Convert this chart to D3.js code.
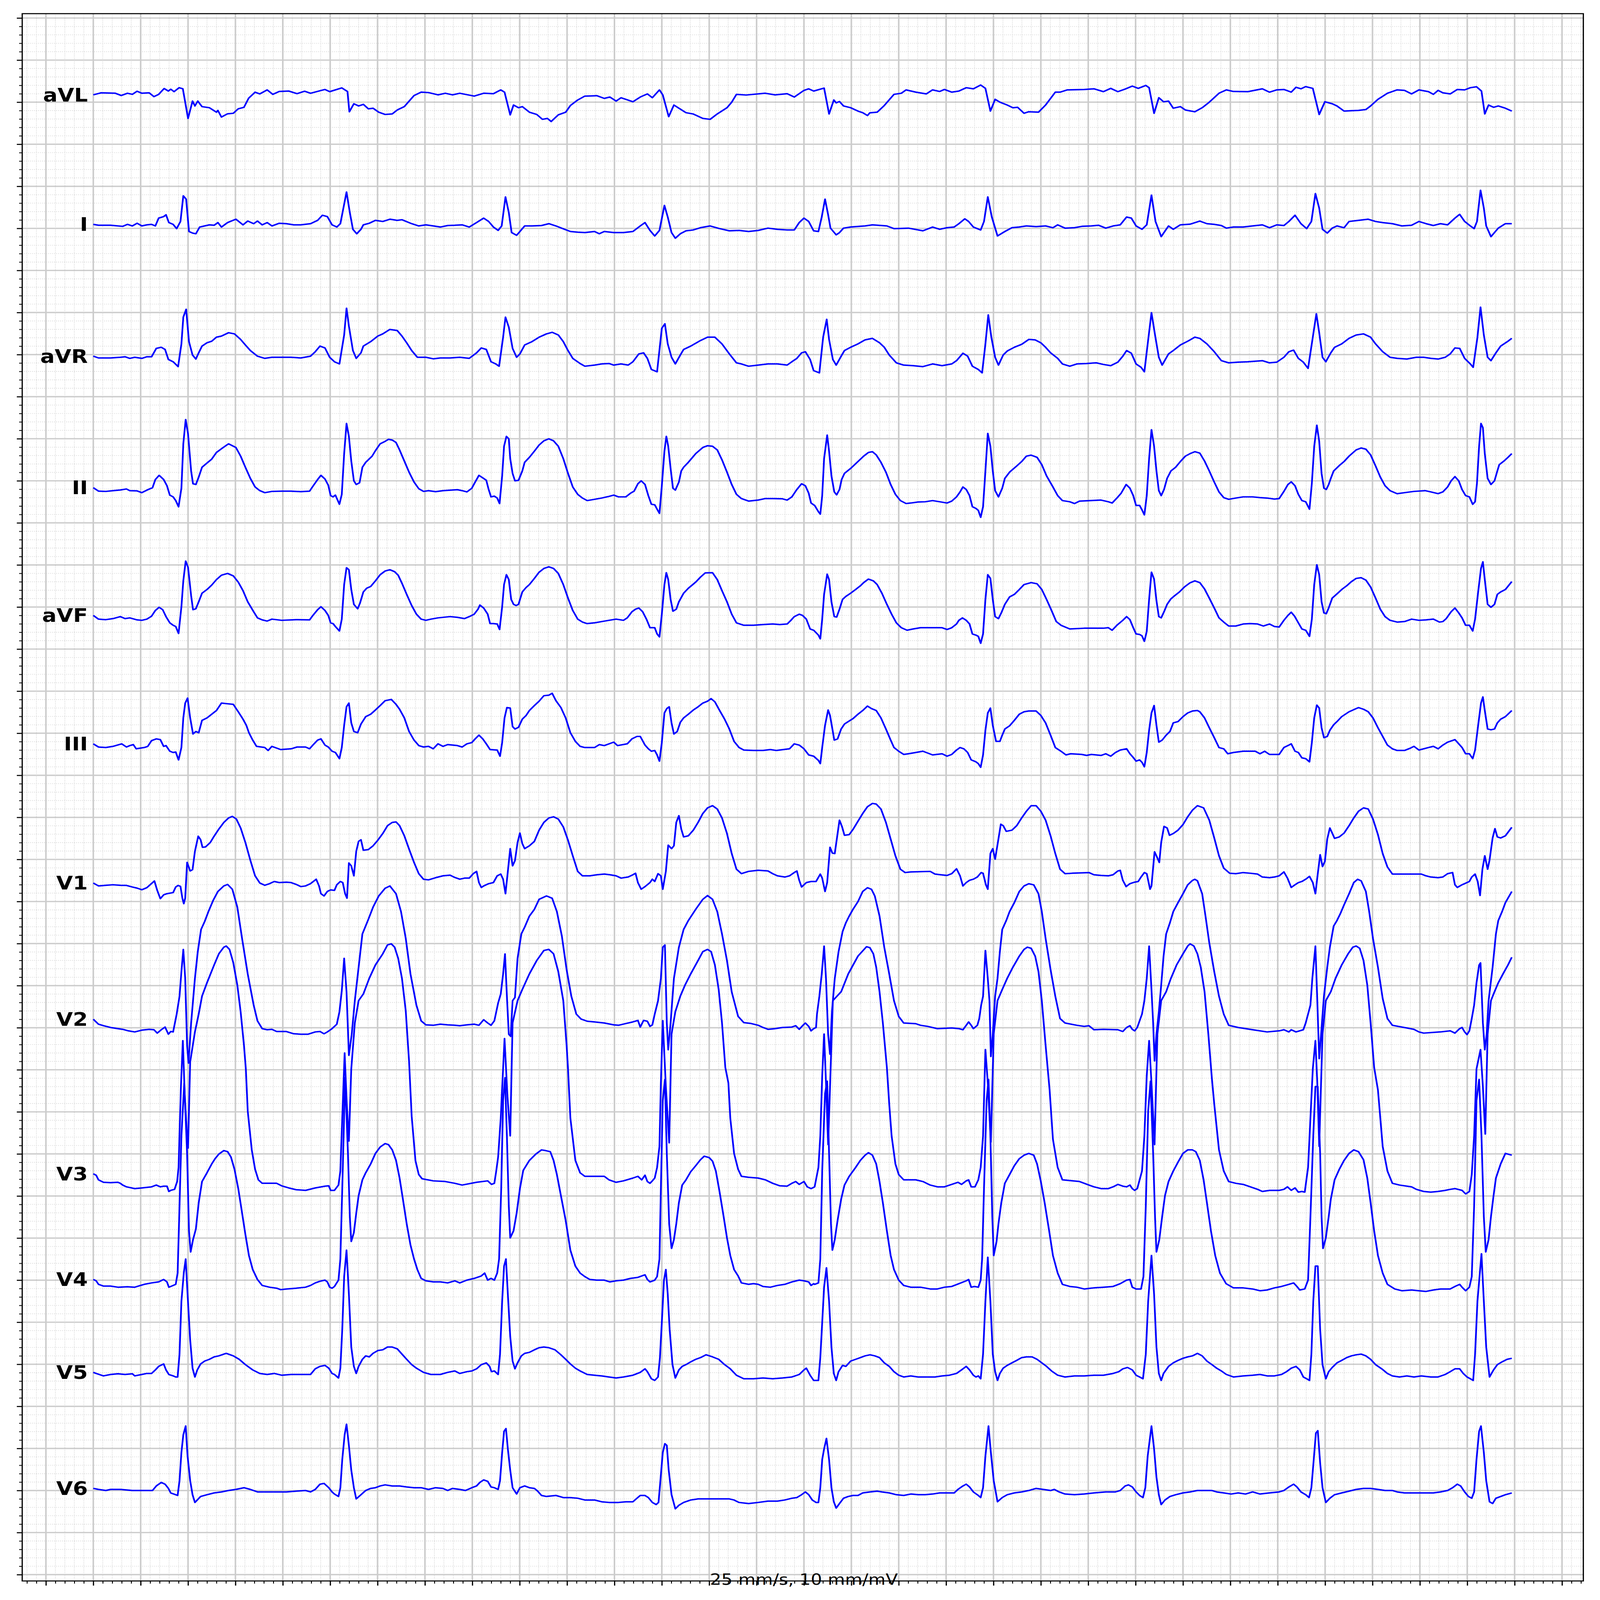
<!DOCTYPE html>
<html>
<head>
<meta charset="utf-8">
<script src="https://cdn.jsdelivr.net/npm/d3@7"></script>
<style>
  html, body { margin: 0; padding: 0; background: #fff; overflow: hidden; }
  #chart svg { display: block; width: 100vw; height: 100vh; }
</style>
</head>
<body>
<div id="chart"></div>
<script>
const leadNames = ["aVL", "I", "aVR", "II", "aVF", "III", "V1", "V2", "V3", "V4", "V5", "V6"];
const leadOffsets = [-1.0, -2.5, -4.0, -5.5, -7.0, -8.5, -10.5, -12.0, -14.0, -15.0, -16.0, -17.5];
const caption = "25 mm/s, 10 mm/mV";

const aVL = [[0,0.087],[0.033,0.111],[0.093,0.106],[0.118,0.079],[0.144,0.106],[0.165,0.093],[0.185,0.130],[0.205,0.106],[0.236,0.111],[0.256,0.066],[0.276,0.093],[0.299,0.162],[0.317,0.132],[0.327,0.154],[0.341,0.125],[0.362,0.172],[0.378,0.159],
[0.400,-0.193],[0.419,0.013],[0.429,-0.045],[0.441,0.013],[0.459,-0.053],[0.490,-0.066],[0.520,-0.119],[0.526,-0.098],[0.541,-0.177],[0.567,-0.138],[0.591,-0.132],[0.612,-0.079],[0.636,-0.061],[0.656,0.048],[0.683,0.119],[0.703,0.098],[0.734,0.146],[0.758,0.093],[0.785,0.127],[0.825,0.132],[0.860,0.101],[0.892,0.130],[0.917,0.106],[0.978,0.151],[0.998,0.125],[1.049,0.170],[1.073,0.127],
[1.081,-0.114],[1.100,-0.019],[1.120,-0.045],[1.140,-0.026],[1.161,-0.079],[1.181,-0.072],[1.205,-0.119],[1.232,-0.146],[1.262,-0.140],[1.283,-0.093],[1.313,-0.053],[1.354,0.079],[1.384,0.119],[1.415,0.114],[1.455,0.087],[1.486,0.106],[1.516,0.087],[1.547,0.106],[1.608,0.072],[1.648,0.106],[1.689,0.101],[1.720,0.146],[1.736,0.119],
[1.760,-0.151],[1.774,-0.034],[1.795,-0.066],[1.811,-0.053],[1.841,-0.119],[1.872,-0.146],[1.896,-0.204],[1.917,-0.193],[1.933,-0.230],[1.963,-0.151],[1.994,-0.119],[2.014,-0.040],[2.045,0.026],[2.075,0.072],[2.126,0.077],[2.157,0.045],[2.181,0.061],[2.207,0.013],[2.228,0.053],[2.278,0.005],[2.309,0.061],[2.339,0.098],[2.360,0.053],[2.390,0.146],[2.404,0.087],
[2.429,-0.172],[2.451,-0.034],[2.472,-0.072],[2.502,-0.125],[2.532,-0.140],[2.573,-0.193],[2.604,-0.204],[2.634,-0.140],[2.675,-0.066],[2.695,0],[2.715,0.093],[2.756,0.085],[2.837,0.106],[2.878,0.087],[2.929,0.101],[2.959,0.061],[3.000,0.140],[3.020,0.159],[3.041,0.132],[3.085,0.167],
[3.106,-0.140],[3.126,0.026],[3.136,-0.008],[3.150,0.008],[3.167,-0.045],[3.197,-0.066],[3.228,-0.106],[3.248,-0.125],[3.268,-0.159],[3.278,-0.127],[3.309,-0.119],[3.339,-0.040],[3.380,0.093],[3.411,0.106],[3.431,0.146],[3.472,0.119],[3.516,0.098],[3.543,0.146],[3.573,0.127],[3.593,0.151],[3.624,0.119],[3.654,0.132],[3.685,0.172],[3.715,0.159],[3.746,0.204],[3.766,0.164],
[3.787,-0.106],[3.807,0.034],[3.827,0],[3.858,-0.034],[3.882,-0.066],[3.902,-0.061],[3.929,-0.132],[3.949,-0.114],[3.990,-0.119],[4.020,-0.034],[4.061,0.119],[4.081,0.119],[4.112,0.146],[4.183,0.151],[4.224,0.159],[4.264,0.125],[4.295,0.164],[4.325,0.125],[4.356,0.156],[4.386,0.191],[4.411,0.164],[4.443,0.199],[4.457,0.172],
[4.478,-0.132],[4.498,0.053],[4.518,0.005],[4.539,0.013],[4.559,-0.072],[4.589,-0.053],[4.610,-0.093],[4.650,-0.114],[4.681,-0.066],[4.711,0],[4.752,0.106],[4.783,0.146],[4.813,0.127],[4.874,0.125],[4.935,0.159],[4.965,0.119],[4.996,0.146],[5.026,0.151],[5.057,0.119],[5.077,0.177],[5.098,0.159],[5.118,0.185],[5.148,0.164],
[5.175,-0.146],[5.199,0.005],[5.230,-0.019],[5.250,-0.045],[5.280,-0.106],[5.311,-0.101],[5.341,-0.098],[5.372,-0.087],[5.392,-0.045],[5.423,0.034],[5.463,0.106],[5.504,0.146],[5.535,0.140],[5.565,0.098],[5.596,0.146],[5.636,0.125],[5.657,0.093],[5.677,0.140],[5.697,0.111],[5.728,0.098],[5.758,0.151],[5.789,0.146],[5.813,0.172],[5.839,0.183],[5.860,0.132],
[5.874,-0.140],[5.890,-0.034],[5.911,-0.061],[5.931,-0.045],[5.961,-0.072],[5.988,-0.106]];

const leadI = [[0,0.048],[0.022,0.037],[0.073,0.037],[0.124,0.024],[0.144,0.048],[0.165,0.029],[0.185,0.061],[0.205,0.029],[0.226,0.042],[0.246,0.048],[0.262,0.029],[0.276,0.122],[0.297,0.140],[0.307,0.162],[0.319,0.069],[0.337,0.048],[0.352,-0.003],[0.368,0.082],[0.380,0.387],[0.392,0.347],[0.404,-0.037],[0.419,-0.056],[0.433,-0.064],[0.449,0.016],[0.470,0.029],[0.490,0.042],[0.510,0.037],[0.526,0.069],[0.541,0.016],[0.567,0.069],[0.602,0.109],[0.632,0.042],[0.652,0.087],[0.677,0.056],[0.693,0.087],[0.713,0.042],[0.734,0.069],[0.754,0.029],[0.785,0.061],[0.815,0.056],[0.846,0.042],[0.876,0.042],[0.917,0.056],[0.947,0.095],[0.967,0.156],[0.988,0.140],[1.008,0.042],[1.028,0.016],[1.043,0.056],
[1.069,0.432],[1.083,0.188],[1.096,-0.011],[1.112,-0.064],[1.130,-0.011],[1.140,0.042],[1.165,0.061],[1.191,0.095],[1.222,0.082],[1.252,0.109],[1.283,0.095],[1.303,0.103],[1.344,0.056],[1.374,0.029],[1.404,0.042],[1.435,0.029],[1.465,0.016],[1.496,0.034],[1.526,0.037],[1.557,0.042],[1.587,0.016],[1.618,0.069],[1.648,0.122],[1.669,0.082],[1.689,0.016],[1.709,-0.024],[1.724,0.029],
[1.740,0.374],[1.754,0.188],[1.766,-0.050],[1.787,-0.082],[1.801,-0.037],[1.821,0.029],[1.852,0.029],[1.892,0.034],[1.923,0.056],[1.953,0.029],[1.984,-0.005],[2.014,-0.037],[2.045,-0.045],[2.075,-0.050],[2.116,-0.037],[2.136,-0.064],[2.157,-0.037],[2.197,-0.050],[2.238,-0.050],[2.278,-0.037],[2.309,0.029],[2.329,0.069],[2.350,-0.024],[2.370,-0.090],[2.390,-0.024],
[2.411,0.273],[2.425,0.135],[2.441,-0.050],[2.457,-0.117],[2.478,-0.064],[2.502,-0.029],[2.532,-0.019],[2.563,0.008],[2.604,0.029],[2.644,-0.003],[2.685,-0.029],[2.726,-0.024],[2.766,-0.037],[2.807,-0.024],[2.848,0.003],[2.888,-0.011],[2.929,-0.019],[2.959,-0.019],[2.980,0.069],[3.000,0.122],[3.020,0.082],[3.041,-0.029],[3.061,-0.037],[3.075,0.135],
[3.089,0.347],[3.102,0.162],[3.112,0.003],[3.136,-0.077],[3.150,-0.050],[3.167,0.003],[3.197,0.016],[3.258,0.029],[3.289,0.042],[3.350,0.029],[3.380,-0.003],[3.441,0.003],[3.502,-0.029],[3.543,0.016],[3.573,-0.011],[3.604,0.008],[3.634,0.016],[3.654,0.056],[3.679,0.114],[3.695,0.082],[3.715,0.016],[3.746,-0.019],[3.760,0.082],
[3.776,0.374],[3.793,0.135],[3.817,-0.090],[3.848,-0.037],[3.878,0.008],[3.909,0.016],[3.939,0.029],[3.980,0.021],[4.020,0.029],[4.051,0.008],[4.071,0.042],[4.102,0.003],[4.142,0.008],[4.173,0.024],[4.213,0.029],[4.244,0.037],[4.274,0.003],[4.305,0.029],[4.335,0.042],[4.362,0.135],[4.382,0.122],[4.402,0.029],[4.427,-0.011],[4.447,0.042],
[4.467,0.395],[4.484,0.082],[4.508,-0.098],[4.539,0.029],[4.559,-0.011],[4.589,0.042],[4.630,0.050],[4.671,0.087],[4.701,0.056],[4.732,0.048],[4.762,0.034],[4.783,0.003],[4.813,0.016],[4.854,0.016],[4.894,0.029],[4.935,0.042],[4.965,0.008],[4.996,0.042],[5.026,0.034],[5.047,0.082],[5.073,0.156],[5.098,0.056],[5.122,-0.003],[5.142,0.082],
[5.159,0.413],[5.175,0.241],[5.189,-0.011],[5.209,-0.056],[5.230,0.003],[5.250,0.029],[5.280,0.008],[5.301,0.082],[5.341,0.095],[5.382,0.109],[5.413,0.082],[5.443,0.069],[5.484,0.056],[5.524,0.029],[5.565,0.037],[5.596,0.082],[5.626,0.056],[5.657,0.034],[5.687,0.056],[5.717,0.042],[5.748,0.122],[5.768,0.167],[5.789,0.082],[5.813,0.029],[5.829,-0.003],[5.841,0.082],
[5.856,0.453],[5.870,0.241],[5.880,0.029],[5.900,-0.098],[5.931,0.003],[5.961,0.056],[5.988,0.056]];

const aVR = [[0,-0.019],[0.022,-0.040],[0.073,-0.040],[0.114,-0.032],[0.134,-0.026],[0.154,-0.045],[0.175,-0.032],[0.205,-0.045],[0.226,-0.026],[0.246,-0.026],[0.266,0.074],[0.287,0.087],[0.303,0.061],[0.317,-0.058],[0.337,-0.085],[0.358,-0.143],[0.372,0.127],[0.380,0.445],[0.392,0.538],[0.404,0.154],[0.419,-0.005],[0.433,-0.053],[0.445,0.021],[0.459,0.101],[0.480,0.140],[0.500,0.159],[0.520,0.207],[0.541,0.220],[0.571,0.260],[0.596,0.246],[0.622,0.180],[0.642,0.114],[0.663,0.048],[0.693,-0.019],[0.724,-0.045],[0.754,-0.032],[0.795,-0.032],[0.835,-0.032],[0.876,-0.040],[0.917,-0.019],[0.937,0.034],[0.957,0.101],[0.978,0.079],[0.998,-0.032],[1.018,-0.085],[1.039,-0.111],
[1.059,0.233],[1.069,0.551],[1.079,0.339],[1.096,0.048],[1.110,-0.045],[1.130,0.021],[1.140,0.101],[1.171,0.154],[1.201,0.220],[1.222,0.246],[1.252,0.299],[1.283,0.286],[1.303,0.220],[1.323,0.140],[1.344,0.048],[1.368,-0.032],[1.404,-0.032],[1.435,-0.050],[1.465,-0.040],[1.506,-0.040],[1.547,-0.032],[1.587,-0.045],[1.618,0.021],[1.638,0.079],[1.659,0.061],[1.679,-0.085],[1.699,-0.111],[1.713,-0.138],
[1.730,0.207],[1.740,0.445],[1.754,0.326],[1.770,0.074],[1.787,-0.032],[1.801,0.008],[1.821,0.114],[1.852,0.154],[1.882,0.207],[1.913,0.246],[1.937,0.265],[1.963,0.233],[1.984,0.154],[2.004,0.048],[2.024,-0.045],[2.055,-0.106],[2.075,-0.138],[2.116,-0.125],[2.146,-0.111],[2.177,-0.106],[2.197,-0.125],[2.228,-0.111],[2.258,-0.125],[2.278,-0.085],[2.303,0.008],[2.323,0.021],[2.339,-0.045],[2.356,-0.177],[2.380,-0.204],
[2.400,0.313],[2.413,0.366],[2.425,0.127],[2.441,-0.032],[2.457,-0.111],[2.478,-0.005],[2.492,0.061],[2.522,0.101],[2.563,0.167],[2.593,0.207],[2.624,0.207],[2.654,0.127],[2.685,0.008],[2.715,-0.098],[2.736,-0.111],[2.766,-0.138],[2.807,-0.125],[2.848,-0.111],[2.888,-0.111],[2.929,-0.125],[2.949,-0.085],[2.970,-0.045],[2.990,0.021],[3.006,0.034],[3.026,-0.058],[3.041,-0.191],[3.065,-0.217],
[3.081,0.207],[3.096,0.419],[3.106,0.180],[3.122,-0.058],[3.136,-0.125],[3.157,-0.019],[3.171,0.048],[3.197,0.087],[3.228,0.127],[3.258,0.175],[3.289,0.193],[3.319,0.140],[3.339,0.087],[3.360,-0.005],[3.390,-0.098],[3.421,-0.125],[3.461,-0.132],[3.502,-0.143],[3.543,-0.111],[3.583,-0.132],[3.624,-0.111],[3.644,-0.072],[3.671,0.016],[3.691,-0.019],[3.711,-0.138],[3.736,-0.177],[3.752,-0.217],
[3.766,0.127],[3.778,0.472],[3.791,0.207],[3.807,-0.032],[3.821,-0.125],[3.841,-0.005],[3.858,0.042],[3.888,0.087],[3.919,0.122],[3.949,0.180],[3.976,0.175],[4.000,0.140],[4.020,0.087],[4.041,0.021],[4.071,-0.045],[4.091,-0.111],[4.122,-0.138],[4.152,-0.111],[4.193,-0.106],[4.234,-0.098],[4.264,-0.117],[4.295,-0.132],[4.325,-0.090],[4.346,-0.019],[4.362,0.048],[4.382,0.016],[4.402,-0.111],[4.423,-0.151],[4.437,-0.204],
[4.451,0.127],[4.467,0.498],[4.482,0.233],[4.498,-0.032],[4.512,-0.125],[4.539,0.008],[4.559,0.048],[4.589,0.114],[4.620,0.159],[4.650,0.207],[4.671,0.193],[4.701,0.127],[4.732,0.034],[4.762,-0.072],[4.793,-0.098],[4.833,-0.090],[4.874,-0.085],[4.935,-0.072],[4.965,-0.098],[4.996,-0.090],[5.026,-0.032],[5.047,0.034],[5.067,0.053],[5.087,-0.045],[5.108,-0.090],[5.128,-0.164],
[5.148,0.207],[5.163,0.485],[5.175,0.260],[5.189,-0.032],[5.203,-0.085],[5.224,0.021],[5.240,0.087],[5.270,0.127],[5.301,0.193],[5.331,0.233],[5.362,0.246],[5.392,0.207],[5.413,0.127],[5.443,0.034],[5.474,-0.032],[5.504,-0.045],[5.545,-0.053],[5.585,-0.032],[5.616,-0.032],[5.646,-0.045],[5.677,-0.053],[5.707,-0.032],[5.728,0.008],[5.748,0.079],[5.768,0.074],[5.789,-0.045],[5.813,-0.111],[5.825,-0.151],
[5.843,0.207],[5.856,0.564],[5.870,0.233],[5.886,-0.032],[5.900,-0.072],[5.921,0.021],[5.941,0.101],[5.972,0.159],[5.988,0.193]];

const leadII = [[0,-0.082],[0.022,-0.123],[0.053,-0.126],[0.083,-0.117],[0.114,-0.109],[0.140,-0.097],[0.154,-0.117],[0.185,-0.120],[0.205,-0.141],[0.226,-0.111],[0.250,-0.082],[0.262,0.015],[0.278,0.065],[0.297,0.015],[0.311,-0.059],[0.323,-0.170],[0.337,-0.191],[0.348,-0.235],[0.360,-0.308],[0.372,-0.088],[0.380,0.440],[0.390,0.728],[0.400,0.557],[0.413,0.117],[0.421,-0.035],[0.433,-0.044],[0.445,0.044],[0.459,0.161],[0.480,0.211],[0.500,0.258],[0.520,0.337],[0.541,0.381],[0.571,0.440],[0.602,0.396],[0.622,0.293],[0.642,0.161],[0.663,0.029],[0.683,-0.073],[0.703,-0.117],[0.724,-0.141],[0.754,-0.126],[0.795,-0.123],[0.835,-0.123],[0.876,-0.129],[0.913,-0.123],[0.927,-0.065],[0.947,0.015],[0.961,0.065],[0.978,0.021],[0.992,-0.053],[1.002,-0.176],[1.012,-0.191],[1.022,-0.170],[1.039,-0.279],
[1.049,-0.161],[1.059,0.323],[1.069,0.681],[1.079,0.528],[1.089,0.235],[1.100,0],[1.110,-0.044],[1.124,-0.023],[1.136,0.161],[1.150,0.220],[1.177,0.293],[1.191,0.358],[1.211,0.440],[1.232,0.469],[1.246,0.493],[1.262,0.484],[1.278,0.455],[1.293,0.367],[1.313,0.235],[1.333,0.103],[1.354,-0.015],[1.374,-0.094],[1.394,-0.126],[1.415,-0.117],[1.445,-0.129],[1.476,-0.117],[1.506,-0.111],[1.537,-0.106],[1.557,-0.117],[1.577,-0.132],[1.598,-0.088],[1.612,-0.015],[1.628,0.065],[1.644,0.035],[1.659,0.006],[1.669,-0.103],[1.679,-0.191],[1.693,-0.182],[1.705,-0.205],[1.715,-0.270],
[1.726,0.059],[1.734,0.411],[1.744,0.528],[1.754,0.499],[1.760,0.264],[1.770,0.088],[1.780,0],[1.795,0.006],[1.811,0.117],[1.821,0.220],[1.841,0.279],[1.862,0.352],[1.882,0.425],[1.902,0.475],[1.923,0.499],[1.943,0.475],[1.963,0.411],[1.984,0.264],[2.004,0.088],[2.024,-0.073],[2.045,-0.161],[2.065,-0.205],[2.085,-0.235],[2.116,-0.220],[2.146,-0.205],[2.177,-0.185],[2.197,-0.170],[2.217,-0.191],[2.248,-0.191],[2.268,-0.147],[2.283,-0.123],[2.299,-0.035],[2.313,0],[2.329,-0.044],[2.343,-0.176],[2.356,-0.279],[2.370,-0.285],[2.380,-0.337],[2.390,-0.387],
[2.400,-0.059],[2.411,0.352],[2.419,0.528],[2.427,0.411],[2.437,0.147],[2.447,-0.088],[2.457,-0.111],[2.472,-0.015],[2.482,0.117],[2.492,0.161],[2.512,0.220],[2.543,0.323],[2.573,0.396],[2.593,0.417],[2.614,0.411],[2.634,0.367],[2.654,0.249],[2.675,0.103],[2.695,-0.044],[2.715,-0.161],[2.736,-0.211],[2.766,-0.241],[2.807,-0.229],[2.837,-0.211],[2.868,-0.211],[2.909,-0.214],[2.929,-0.229],[2.949,-0.191],[2.970,-0.103],[2.990,-0.035],[3.006,-0.059],[3.020,-0.147],[3.030,-0.264],[3.045,-0.293],[3.061,-0.367],[3.069,-0.396],
[3.077,-0.176],[3.085,0.264],[3.098,0.543],[3.106,0.352],[3.116,0.059],[3.128,-0.132],[3.138,-0.167],[3.150,-0.103],[3.159,0.015],[3.171,0.088],[3.197,0.147],[3.228,0.229],[3.252,0.293],[3.272,0.337],[3.289,0.346],[3.305,0.308],[3.325,0.220],[3.346,0.103],[3.366,-0.044],[3.386,-0.161],[3.407,-0.235],[3.431,-0.270],[3.451,-0.264],[3.482,-0.252],[3.512,-0.249],[3.543,-0.235],[3.573,-0.249],[3.604,-0.264],[3.624,-0.241],[3.644,-0.191],[3.659,-0.132],[3.671,-0.073],[3.685,-0.103],[3.699,-0.176],[3.711,-0.308],[3.726,-0.329],[3.736,-0.352],[3.746,-0.434],
[3.756,-0.308],[3.766,0.117],[3.776,0.563],[3.787,0.411],[3.797,0.117],[3.807,-0.117],[3.821,-0.191],[3.837,-0.088],[3.848,0.029],[3.868,0.103],[3.898,0.176],[3.919,0.229],[3.939,0.293],[3.959,0.305],[3.984,0.279],[4.004,0.191],[4.024,0.059],[4.051,-0.073],[4.071,-0.176],[4.091,-0.235],[4.122,-0.249],[4.142,-0.270],[4.163,-0.241],[4.213,-0.235],[4.254,-0.229],[4.285,-0.249],[4.301,-0.264],[4.321,-0.205],[4.339,-0.147],[4.360,-0.044],[4.376,-0.088],[4.390,-0.176],[4.402,-0.293],[4.417,-0.293],[4.427,-0.346],[4.437,-0.405],
[4.447,-0.176],[4.457,0.264],[4.467,0.607],[4.478,0.411],[4.488,0.117],[4.498,-0.117],[4.508,-0.176],[4.520,-0.103],[4.533,0.029],[4.549,0.117],[4.569,0.161],[4.589,0.229],[4.610,0.293],[4.630,0.323],[4.650,0.346],[4.671,0.329],[4.691,0.235],[4.711,0.117],[4.732,-0.015],[4.752,-0.132],[4.772,-0.200],[4.793,-0.220],[4.823,-0.205],[4.854,-0.191],[4.894,-0.191],[4.925,-0.200],[4.955,-0.205],[4.986,-0.217],[5.006,-0.211],[5.026,-0.126],[5.043,-0.044],[5.057,-0.012],[5.073,-0.059],[5.087,-0.161],[5.102,-0.235],[5.118,-0.249],[5.134,-0.337],
[5.144,-0.029],[5.154,0.411],[5.165,0.660],[5.175,0.469],[5.185,0.088],[5.195,-0.088],[5.205,-0.103],[5.215,-0.044],[5.224,0.029],[5.236,0.117],[5.260,0.182],[5.280,0.229],[5.301,0.293],[5.331,0.367],[5.352,0.390],[5.372,0.376],[5.392,0.308],[5.413,0.176],[5.433,0.044],[5.453,-0.059],[5.474,-0.117],[5.504,-0.153],[5.535,-0.141],[5.575,-0.126],[5.622,-0.117],[5.646,-0.132],[5.677,-0.153],[5.697,-0.132],[5.717,-0.073],[5.732,0],[5.748,0.050],[5.764,0],[5.778,-0.103],[5.793,-0.176],[5.809,-0.191],[5.823,-0.279],[5.833,-0.249],
[5.841,-0.029],[5.850,0.411],[5.858,0.681],[5.866,0.631],[5.874,0.323],[5.886,0.029],[5.900,-0.044],[5.915,0],[5.927,0.117],[5.935,0.191],[5.955,0.235],[5.972,0.279],[5.988,0.323]];

const aVF = [[0,-0.100],[0.022,-0.144],[0.053,-0.150],[0.083,-0.138],[0.114,-0.114],[0.134,-0.138],[0.154,-0.129],[0.185,-0.153],[0.205,-0.158],[0.226,-0.144],[0.246,-0.109],[0.262,-0.041],[0.278,-0.003],[0.293,-0.032],[0.307,-0.114],[0.323,-0.188],[0.337,-0.217],[0.348,-0.232],[0.360,-0.314],[0.372,0.003],[0.380,0.311],[0.390,0.546],[0.400,0.472],[0.413,0.135],[0.421,-0.032],[0.433,-0.021],[0.445,0.062],[0.459,0.164],[0.480,0.208],[0.500,0.261],[0.520,0.326],[0.541,0.378],[0.567,0.399],[0.591,0.370],[0.612,0.296],[0.632,0.194],[0.652,0.062],[0.677,-0.056],[0.693,-0.129],[0.713,-0.153],[0.734,-0.167],[0.754,-0.144],[0.795,-0.158],[0.856,-0.150],[0.913,-0.153],[0.927,-0.100],[0.947,-0.032],[0.961,0.003],[0.978,-0.041],[0.992,-0.100],[1.002,-0.188],[1.012,-0.197],[1.022,-0.232],[1.039,-0.285],
[1.049,-0.144],[1.059,0.267],[1.069,0.467],[1.079,0.443],[1.089,0.208],[1.100,0.032],[1.116,-0.021],[1.126,0.047],[1.140,0.179],[1.154,0.223],[1.171,0.244],[1.191,0.311],[1.211,0.384],[1.232,0.428],[1.252,0.443],[1.272,0.420],[1.287,0.378],[1.303,0.282],[1.323,0.150],[1.344,0.018],[1.364,-0.085],[1.384,-0.144],[1.404,-0.158],[1.425,-0.144],[1.455,-0.129],[1.506,-0.114],[1.537,-0.123],[1.567,-0.138],[1.587,-0.114],[1.608,-0.085],[1.624,-0.026],[1.632,0.023],[1.648,-0.012],[1.665,-0.085],[1.675,-0.197],[1.689,-0.197],[1.705,-0.202],[1.715,-0.267],
[1.726,0.003],[1.734,0.267],[1.744,0.384],[1.754,0.326],[1.764,0.091],[1.774,0.032],[1.785,0.018],[1.795,0.032],[1.811,0.179],[1.827,0.232],[1.841,0.267],[1.862,0.340],[1.882,0.414],[1.902,0.458],[1.923,0.478],[1.943,0.458],[1.963,0.399],[1.984,0.267],[2.004,0.106],[2.024,-0.041],[2.045,-0.144],[2.065,-0.179],[2.085,-0.197],[2.116,-0.188],[2.146,-0.173],[2.177,-0.158],[2.207,-0.144],[2.238,-0.158],[2.254,-0.129],[2.274,-0.056],[2.289,-0.026],[2.303,-0.012],[2.319,-0.056],[2.335,-0.144],[2.350,-0.246],[2.370,-0.246],[2.380,-0.320],[2.390,-0.355],
[2.400,-0.085],[2.411,0.267],[2.419,0.408],[2.427,0.326],[2.437,0.091],[2.447,-0.050],[2.461,-0.026],[2.472,0.062],[2.492,0.164],[2.512,0.223],[2.543,0.296],[2.563,0.355],[2.583,0.405],[2.614,0.408],[2.634,0.326],[2.654,0.194],[2.675,0.062],[2.695,-0.085],[2.715,-0.188],[2.746,-0.217],[2.787,-0.217],[2.827,-0.208],[2.868,-0.202],[2.898,-0.208],[2.929,-0.202],[2.945,-0.158],[2.959,-0.114],[2.980,-0.085],[2.994,-0.100],[3.010,-0.144],[3.026,-0.261],[3.041,-0.276],[3.061,-0.334],[3.069,-0.378],
[3.077,-0.144],[3.085,0.150],[3.098,0.390],[3.106,0.326],[3.116,0.062],[3.128,-0.114],[3.138,-0.120],[3.150,-0.026],[3.163,0.091],[3.177,0.126],[3.197,0.164],[3.218,0.208],[3.238,0.252],[3.252,0.290],[3.272,0.332],[3.293,0.311],[3.309,0.267],[3.329,0.164],[3.350,0.032],[3.370,-0.085],[3.390,-0.188],[3.411,-0.246],[3.435,-0.276],[3.461,-0.261],[3.492,-0.246],[3.543,-0.246],[3.583,-0.246],[3.604,-0.267],[3.624,-0.246],[3.644,-0.202],[3.654,-0.158],[3.669,-0.129],[3.685,-0.158],[3.699,-0.202],[3.711,-0.320],[3.726,-0.334],[3.736,-0.349],[3.746,-0.431],
[3.756,-0.320],[3.766,0.091],[3.776,0.384],[3.787,0.340],[3.797,0.091],[3.807,-0.114],[3.821,-0.138],[3.833,-0.070],[3.848,0.032],[3.868,0.120],[3.888,0.150],[3.909,0.208],[3.929,0.267],[3.959,0.290],[3.984,0.276],[4.004,0.208],[4.024,0.091],[4.045,-0.041],[4.065,-0.173],[4.085,-0.217],[4.122,-0.261],[4.183,-0.252],[4.264,-0.252],[4.285,-0.246],[4.301,-0.276],[4.321,-0.217],[4.346,-0.158],[4.362,-0.114],[4.376,-0.150],[4.390,-0.246],[4.402,-0.320],[4.417,-0.326],[4.427,-0.343],[4.437,-0.408],
[4.447,-0.290],[4.457,0.091],[4.467,0.414],[4.478,0.332],[4.488,0.076],[4.498,-0.114],[4.508,-0.129],[4.520,-0.056],[4.533,0.032],[4.549,0.097],[4.565,0.135],[4.585,0.179],[4.606,0.238],[4.630,0.288],[4.650,0.311],[4.671,0.290],[4.691,0.214],[4.711,0.106],[4.732,-0.012],[4.752,-0.129],[4.772,-0.179],[4.793,-0.226],[4.823,-0.226],[4.854,-0.202],[4.884,-0.197],[4.915,-0.202],[4.939,-0.226],[4.965,-0.202],[4.986,-0.232],[5.006,-0.238],[5.026,-0.158],[5.043,-0.100],[5.057,-0.062],[5.071,-0.109],[5.087,-0.188],[5.102,-0.261],[5.118,-0.276],[5.134,-0.349],
[5.144,-0.144],[5.154,0.267],[5.165,0.502],[5.175,0.384],[5.185,0.062],[5.195,-0.070],[5.205,-0.079],[5.215,-0.012],[5.230,0.106],[5.250,0.156],[5.270,0.208],[5.291,0.252],[5.311,0.302],[5.331,0.340],[5.352,0.349],[5.372,0.320],[5.392,0.238],[5.413,0.106],[5.433,-0.026],[5.453,-0.114],[5.474,-0.158],[5.504,-0.179],[5.535,-0.173],[5.565,-0.144],[5.596,-0.158],[5.626,-0.153],[5.657,-0.144],[5.683,-0.179],[5.697,-0.173],[5.711,-0.138],[5.732,-0.056],[5.748,-0.012],[5.764,-0.070],[5.778,-0.129],[5.793,-0.217],[5.809,-0.217],[5.823,-0.285],
[5.833,-0.144],[5.846,0.179],[5.858,0.458],[5.866,0.537],[5.874,0.326],[5.886,0.032],[5.900,-0.003],[5.915,0.032],[5.927,0.150],[5.941,0.179],[5.961,0.208],[5.988,0.302]];

const leadIII = [[0,-0.126],[0.022,-0.164],[0.053,-0.170],[0.083,-0.156],[0.120,-0.126],[0.140,-0.164],[0.154,-0.147],[0.169,-0.135],[0.181,-0.185],[0.215,-0.170],[0.230,-0.156],[0.246,-0.088],[0.266,-0.067],[0.283,-0.076],[0.297,-0.156],[0.307,-0.147],[0.323,-0.214],[0.337,-0.229],[0.348,-0.223],[0.360,-0.317],[0.372,-0.170],[0.380,0.182],[0.388,0.358],[0.398,0.417],[0.409,0.182],[0.421,-0.009],[0.433,0.021],[0.445,0.006],[0.459,0.153],[0.480,0.182],[0.500,0.226],[0.520,0.270],[0.541,0.358],[0.561,0.352],[0.591,0.343],[0.612,0.255],[0.632,0.167],[0.646,0.094],[0.657,0.006],[0.673,-0.082],[0.689,-0.156],[0.724,-0.170],[0.738,-0.205],[0.754,-0.156],[0.791,-0.194],[0.835,-0.185],[0.860,-0.164],[0.896,-0.164],[0.913,-0.185],[0.927,-0.141],[0.947,-0.082],[0.961,-0.067],[0.978,-0.141],[0.992,-0.164],[1.008,-0.214],[1.022,-0.229],[1.039,-0.302],
[1.049,-0.170],[1.059,0.094],[1.069,0.314],[1.079,0.358],[1.089,0.123],[1.100,0.021],[1.116,0.006],[1.130,0.109],[1.150,0.197],[1.171,0.226],[1.191,0.276],[1.211,0.329],[1.232,0.387],[1.258,0.402],[1.278,0.343],[1.293,0.285],[1.313,0.182],[1.333,0.021],[1.354,-0.082],[1.374,-0.147],[1.394,-0.164],[1.415,-0.156],[1.435,-0.185],[1.455,-0.126],[1.476,-0.156],[1.496,-0.135],[1.537,-0.147],[1.557,-0.164],[1.577,-0.126],[1.598,-0.111],[1.612,-0.067],[1.628,-0.023],[1.644,-0.067],[1.659,-0.126],[1.675,-0.194],[1.705,-0.200],[1.717,-0.273],
[1.726,-0.111],[1.736,0.182],[1.746,0.305],[1.760,0.299],[1.770,0.079],[1.780,0.050],[1.795,0.070],[1.811,0.167],[1.827,0.211],[1.841,0.270],[1.862,0.329],[1.882,0.381],[1.902,0.446],[1.923,0.452],[1.937,0.475],[1.953,0.387],[1.974,0.305],[1.994,0.182],[2.014,0.006],[2.035,-0.097],[2.055,-0.156],[2.075,-0.170],[2.116,-0.170],[2.136,-0.135],[2.157,-0.147],[2.197,-0.106],[2.213,-0.147],[2.254,-0.126],[2.274,-0.067],[2.295,-0.038],[2.309,-0.038],[2.329,-0.141],[2.343,-0.185],[2.356,-0.214],[2.370,-0.205],[2.380,-0.258],[2.390,-0.332],
[2.400,-0.111],[2.411,0.241],[2.421,0.293],[2.431,0.314],[2.441,0.123],[2.451,-0.009],[2.465,0.021],[2.478,0.129],[2.492,0.182],[2.512,0.226],[2.533,0.276],[2.553,0.314],[2.573,0.358],[2.593,0.381],[2.608,0.411],[2.624,0.373],[2.644,0.270],[2.665,0.167],[2.685,0.050],[2.705,-0.097],[2.726,-0.170],[2.746,-0.200],[2.787,-0.205],[2.827,-0.205],[2.858,-0.194],[2.884,-0.205],[2.939,-0.185],[2.959,-0.126],[2.980,-0.141],[3.000,-0.185],[3.020,-0.258],[3.041,-0.273],[3.061,-0.323],[3.069,-0.361],
[3.077,-0.170],[3.089,0.094],[3.102,0.276],[3.110,0.211],[3.120,0.050],[3.128,-0.082],[3.142,-0.067],[3.157,0.050],[3.171,0.109],[3.187,0.138],[3.208,0.176],[3.228,0.226],[3.248,0.270],[3.268,0.323],[3.285,0.293],[3.305,0.270],[3.325,0.182],[3.346,0.050],[3.366,-0.082],[3.380,-0.170],[3.400,-0.214],[3.421,-0.252],[3.441,-0.244],[3.472,-0.229],[3.502,-0.214],[3.543,-0.258],[3.583,-0.244],[3.604,-0.273],[3.624,-0.252],[3.644,-0.200],[3.659,-0.170],[3.675,-0.185],[3.691,-0.229],[3.706,-0.317],[3.726,-0.340],[3.736,-0.361],[3.746,-0.405],
[3.756,-0.258],[3.766,0.035],[3.776,0.241],[3.787,0.299],[3.797,0.094],[3.811,-0.097],[3.827,-0.097],[3.837,-0.023],[3.848,0.050],[3.868,0.088],[3.888,0.153],[3.909,0.226],[3.929,0.255],[3.949,0.264],[3.980,0.264],[4.000,0.211],[4.020,0.123],[4.041,-0.023],[4.061,-0.170],[4.085,-0.214],[4.106,-0.258],[4.126,-0.244],[4.173,-0.252],[4.193,-0.264],[4.213,-0.252],[4.254,-0.264],[4.274,-0.244],[4.295,-0.273],[4.315,-0.229],[4.335,-0.200],[4.362,-0.185],[4.376,-0.244],[4.390,-0.288],[4.402,-0.332],[4.417,-0.317],[4.427,-0.346],[4.437,-0.399],
[4.447,-0.229],[4.457,0.035],[4.467,0.241],[4.478,0.329],[4.488,0.094],[4.498,-0.106],[4.512,-0.082],[4.529,-0.023],[4.545,0.021],[4.559,0.123],[4.579,0.138],[4.600,0.197],[4.620,0.241],[4.640,0.264],[4.661,0.270],[4.671,0.255],[4.691,0.182],[4.711,0.065],[4.732,-0.053],[4.752,-0.170],[4.772,-0.185],[4.789,-0.244],[4.813,-0.229],[4.854,-0.214],[4.905,-0.214],[4.925,-0.244],[4.945,-0.214],[4.965,-0.252],[5.006,-0.252],[5.026,-0.170],[5.043,-0.147],[5.057,-0.126],[5.073,-0.214],[5.087,-0.229],[5.102,-0.293],[5.118,-0.302],[5.134,-0.340],
[5.144,-0.111],[5.154,0.182],[5.165,0.334],[5.175,0.299],[5.185,0.065],[5.195,-0.053],[5.209,-0.038],[5.220,0.035],[5.236,0.100],[5.250,0.138],[5.270,0.197],[5.301,0.255],[5.341,0.305],[5.362,0.285],[5.382,0.255],[5.402,0.182],[5.423,0.065],[5.443,-0.038],[5.463,-0.141],[5.484,-0.185],[5.504,-0.205],[5.535,-0.205],[5.561,-0.176],[5.575,-0.156],[5.596,-0.200],[5.636,-0.170],[5.657,-0.156],[5.677,-0.185],[5.697,-0.141],[5.717,-0.106],[5.748,-0.076],[5.764,-0.126],[5.778,-0.170],[5.793,-0.244],[5.809,-0.244],[5.823,-0.302],
[5.833,-0.200],[5.846,0.094],[5.858,0.358],[5.866,0.431],[5.874,0.270],[5.886,0.050],[5.900,0.041],[5.915,0.050],[5.927,0.123],[5.941,0.167],[5.961,0.197],[5.988,0.270]];

const V1 = [[0,0.220],[0.022,0.185],[0.053,0.193],[0.083,0.199],[0.114,0.193],[0.140,0.191],[0.165,0.172],[0.185,0.159],[0.205,0.140],[0.226,0.164],[0.242,0.204],[0.258,0.244],[0.270,0.132],[0.283,0.034],[0.297,0.079],[0.311,0.093],[0.337,0.106],[0.348,0.172],[0.358,0.191],[0.368,0.180],[0.376,0.040],[0.382,-0.026],[0.388,0.040],[0.396,0.464],[0.409,0.363],[0.419,0.379],[0.429,0.596],[0.443,0.776],[0.453,0.734],[0.461,0.644],[0.474,0.649],[0.494,0.702],[0.510,0.776],[0.530,0.861],[0.551,0.940],[0.571,0.993],[0.587,1.012],[0.604,0.980],[0.622,0.874],[0.642,0.702],[0.663,0.490],[0.683,0.305],[0.703,0.220],[0.724,0.193],[0.744,0.212],[0.764,0.238],[0.785,0.225],[0.815,0.230],[0.835,0.225],[0.856,0.204],[0.876,0.177],[0.896,0.185],[0.917,0.212],[0.941,0.265],[0.953,0.185],[0.961,0.093],[0.974,0.066],[0.988,0.119],[1.002,0.138],[1.018,0.132],[1.028,0.199],[1.043,0.238],[1.053,0.225],[1.063,0.093],[1.071,0.040],
[1.079,0.458],[1.089,0.424],[1.100,0.305],[1.110,0.596],[1.120,0.715],[1.130,0.734],[1.140,0.609],[1.161,0.617],[1.181,0.662],[1.201,0.728],[1.222,0.808],[1.242,0.901],[1.262,0.940],[1.278,0.946],[1.293,0.901],[1.313,0.781],[1.333,0.623],[1.354,0.464],[1.374,0.331],[1.394,0.265],[1.415,0.257],[1.445,0.283],[1.476,0.305],[1.506,0.313],[1.526,0.286],[1.547,0.265],[1.567,0.278],[1.587,0.278],[1.604,0.331],[1.618,0.358],[1.628,0.225],[1.638,0.167],[1.648,0.185],[1.669,0.212],[1.689,0.225],[1.705,0.305],[1.720,0.326],[1.730,0.265],[1.740,0.093],
[1.750,0.358],[1.760,0.628],[1.770,0.424],[1.780,0.485],[1.791,0.702],[1.801,0.813],[1.811,0.689],[1.821,0.628],[1.841,0.662],[1.862,0.715],[1.882,0.848],[1.902,0.940],[1.923,0.993],[1.943,1.007],[1.963,0.980],[1.984,0.887],[2.004,0.728],[2.024,0.543],[2.045,0.358],[2.065,0.305],[2.096,0.305],[2.126,0.318],[2.157,0.326],[2.181,0.318],[2.207,0.305],[2.228,0.278],[2.258,0.291],[2.278,0.318],[2.289,0.336],[2.299,0.225],[2.313,0.146],[2.329,0.177],[2.350,0.225],[2.360,0.265],[2.370,0.238],[2.384,0.331],[2.396,0.305],[2.404,0.146],
[2.417,0.358],[2.427,0.670],[2.441,0.628],[2.451,0.662],[2.461,0.940],[2.472,1.020],[2.482,0.861],[2.492,0.768],[2.512,0.781],[2.533,0.848],[2.553,0.940],[2.573,1.046],[2.593,1.113],[2.614,1.139],[2.634,1.099],[2.654,0.993],[2.675,0.808],[2.695,0.570],[2.715,0.384],[2.736,0.331],[2.766,0.358],[2.807,0.371],[2.848,0.363],[2.868,0.331],[2.888,0.305],[2.919,0.291],[2.939,0.305],[2.959,0.344],[2.970,0.363],[2.980,0.252],[2.990,0.172],[3.010,0.225],[3.030,0.238],[3.051,0.238],[3.069,0.326],[3.077,0.278],[3.089,0.119],
[3.098,0.225],[3.110,0.644],[3.120,0.575],[3.130,0.570],[3.142,0.808],[3.150,0.967],[3.161,0.887],[3.171,0.787],[3.191,0.795],[3.208,0.861],[3.228,0.954],[3.248,1.046],[3.268,1.126],[3.289,1.166],[3.305,1.158],[3.325,1.099],[3.346,0.940],[3.366,0.742],[3.386,0.543],[3.407,0.384],[3.427,0.344],[3.451,0.352],[3.533,0.358],[3.553,0.326],[3.577,0.318],[3.604,0.310],[3.624,0.331],[3.644,0.389],[3.659,0.305],[3.671,0.185],[3.685,0.225],[3.699,0.252],[3.715,0.265],[3.732,0.291],[3.748,0.344],[3.756,0.336],[3.768,0.199],[3.776,0.146],
[3.787,0.570],[3.797,0.628],[3.807,0.503],[3.817,0.675],[3.831,0.919],[3.841,0.901],[3.854,0.834],[3.878,0.848],[3.898,0.901],[3.919,0.993],[3.939,1.073],[3.959,1.139],[3.980,1.139],[4.000,1.073],[4.020,0.967],[4.041,0.781],[4.061,0.570],[4.081,0.384],[4.102,0.331],[4.132,0.336],[4.203,0.344],[4.224,0.318],[4.254,0.310],[4.285,0.305],[4.305,0.318],[4.325,0.363],[4.335,0.371],[4.346,0.252],[4.360,0.177],[4.376,0.212],[4.396,0.230],[4.411,0.238],[4.423,0.291],[4.437,0.344],[4.447,0.331],[4.461,0.146],[4.467,0.185],
[4.480,0.591],[4.492,0.517],[4.500,0.464],[4.508,0.702],[4.520,0.893],[4.533,0.874],[4.543,0.787],[4.559,0.808],[4.579,0.848],[4.600,0.914],[4.620,1.007],[4.640,1.086],[4.661,1.139],[4.687,1.113],[4.711,0.967],[4.732,0.755],[4.752,0.543],[4.772,0.397],[4.797,0.336],[4.823,0.331],[4.854,0.344],[4.884,0.336],[4.915,0.326],[4.935,0.291],[4.965,0.283],[4.986,0.291],[5.006,0.305],[5.026,0.352],[5.041,0.278],[5.057,0.167],[5.073,0.199],[5.087,0.225],[5.102,0.238],[5.118,0.265],[5.134,0.299],[5.148,0.225],[5.159,0.093],
[5.169,0.331],[5.179,0.556],[5.189,0.416],[5.199,0.477],[5.209,0.742],[5.220,0.874],[5.230,0.813],[5.240,0.750],[5.260,0.768],[5.280,0.813],[5.301,0.901],[5.321,0.993],[5.341,1.073],[5.362,1.113],[5.382,1.099],[5.402,0.980],[5.423,0.795],[5.443,0.570],[5.463,0.411],[5.484,0.326],[5.606,0.326],[5.626,0.305],[5.646,0.291],[5.677,0.283],[5.697,0.291],[5.717,0.331],[5.738,0.344],[5.748,0.199],[5.758,0.167],[5.778,0.199],[5.799,0.225],[5.809,0.238],[5.819,0.291],[5.833,0.326],[5.844,0.238],[5.854,0.072],
[5.864,0.384],[5.874,0.543],[5.886,0.384],[5.894,0.490],[5.907,0.755],[5.917,0.866],[5.927,0.768],[5.941,0.755],[5.961,0.781],[5.988,0.882]];

const V2 = [[0,0.101],[0.022,0.042],[0.043,0.024],[0.073,0.003],[0.104,-0.011],[0.124,-0.019],[0.148,-0.037],[0.175,-0.050],[0.205,-0.029],[0.236,-0.019],[0.256,-0.024],[0.270,-0.064],[0.287,-0.024],[0.303,0.008],[0.317,-0.077],[0.327,-0.045],[0.337,-0.050],[0.352,0.162],[0.364,0.374],[0.372,0.665],[0.380,0.930],[0.388,0.585],[0.396,-0.209],[0.402,-0.421],[0.413,0.056],[0.429,0.585],[0.441,0.903],[0.455,1.168],[0.470,1.261],[0.486,1.380],[0.506,1.513],[0.526,1.619],[0.551,1.685],[0.567,1.703],[0.587,1.645],[0.608,1.433],[0.628,1.062],[0.652,0.638],[0.677,0.268],[0.693,0.082],[0.713,-0.011],[0.734,-0.024],[0.754,-0.019],[0.774,-0.045],[0.815,-0.045],[0.846,-0.072],[0.876,-0.077],[0.907,-0.077],[0.937,-0.050],[0.957,-0.045],[0.974,-0.072],[0.988,-0.050],[1.008,-0.011],[1.028,0.042],
[1.039,0.188],[1.049,0.440],[1.059,0.824],[1.069,0.426],[1.079,-0.328],[1.091,-0.077],[1.104,0.321],[1.120,0.718],[1.136,1.115],[1.161,1.287],[1.181,1.433],[1.205,1.566],[1.232,1.658],[1.252,1.685],[1.278,1.592],[1.299,1.380],[1.319,1.062],[1.339,0.638],[1.364,0.268],[1.384,0.082],[1.404,0.034],[1.435,0.029],[1.465,0.042],[1.496,0.034],[1.526,0.029],[1.547,0.024],[1.577,0.034],[1.608,0.042],[1.628,0.029],[1.648,0.095],[1.665,0.056],[1.679,0.029],[1.693,0.082],
[1.709,0.294],[1.720,0.400],[1.730,0.638],[1.738,0.877],[1.746,0.374],[1.754,-0.077],[1.762,-0.103],[1.770,0.321],[1.780,0.360],[1.791,0.824],[1.807,1.115],[1.821,1.195],[1.841,1.327],[1.862,1.407],[1.882,1.526],[1.913,1.566],[1.937,1.539],[1.957,1.380],[1.978,1.089],[1.998,0.691],[2.018,0.374],[2.039,0.162],[2.059,0.103],[2.085,0.077],[2.116,0.069],[2.157,0.056],[2.197,0.034],[2.217,0.029],[2.248,0.050],[2.278,0.069],[2.299,0.087],[2.309,0.008],[2.323,0.087],[2.339,0.077],[2.350,0.016],[2.360,0.034],
[2.370,0.162],[2.384,0.321],[2.396,0.585],[2.404,0.956],[2.413,0.983],[2.421,0.056],[2.427,-0.262],[2.437,0.056],[2.451,0.585],[2.472,0.956],[2.492,1.168],[2.512,1.274],[2.543,1.407],[2.573,1.526],[2.593,1.571],[2.614,1.526],[2.634,1.380],[2.654,1.115],[2.675,0.797],[2.695,0.426],[2.722,0.135],[2.746,0.061],[2.777,0.050],[2.807,0.029],[2.827,0.003],[2.848,-0.019],[2.878,-0.011],[2.909,0.003],[2.949,0.008],[2.965,0.024],[2.980,-0.019],[2.994,0.024],[3.006,0.056],[3.020,0.016],[3.030,-0.037],[3.041,-0.011],[3.051,0.003],
[3.055,0.162],[3.065,0.374],[3.075,0.638],[3.085,0.970],[3.093,0.585],[3.102,-0.077],[3.110,-0.315],[3.118,0.188],[3.130,0.585],[3.146,0.903],[3.163,1.142],[3.177,1.248],[3.191,1.327],[3.207,1.407],[3.228,1.499],[3.248,1.619],[3.268,1.664],[3.285,1.645],[3.299,1.566],[3.319,1.327],[3.339,0.956],[3.360,0.638],[3.380,0.321],[3.400,0.135],[3.421,0.056],[3.472,0.048],[3.492,0.029],[3.522,0.016],[3.563,-0.011],[3.624,-0.003],[3.654,-0.011],[3.671,-0.024],[3.685,0.029],[3.695,0.069],[3.706,0.029],[3.715,-0.011],[3.732,0.029],[3.740,0.109],
[3.748,0.268],[3.756,0.374],[3.766,0.917],[3.776,0.585],[3.783,0.321],[3.789,-0.342],[3.797,-0.077],[3.807,0.374],[3.817,0.585],[3.827,0.903],[3.837,1.168],[3.854,1.274],[3.868,1.380],[3.888,1.486],[3.909,1.619],[3.929,1.685],[3.949,1.711],[3.970,1.698],[3.990,1.592],[4.004,1.380],[4.020,1.062],[4.041,0.691],[4.061,0.374],[4.081,0.109],[4.102,0.056],[4.152,0.029],[4.183,0.016],[4.203,0.024],[4.224,-0.024],[4.264,-0.019],[4.325,-0.024],[4.346,-0.045],[4.362,0.003],[4.376,0.024],[4.386,-0.019],[4.396,-0.037],[4.407,0.003],
[4.427,0.162],[4.437,0.321],[4.447,0.585],[4.457,0.970],[4.467,0.453],[4.474,0.056],[4.480,-0.395],[4.488,-0.077],[4.498,0.188],[4.508,0.506],[4.518,0.850],[4.529,1.115],[4.545,1.248],[4.559,1.380],[4.579,1.486],[4.600,1.592],[4.620,1.698],[4.640,1.751],[4.650,1.764],[4.661,1.746],[4.681,1.592],[4.695,1.327],[4.711,1.009],[4.732,0.665],[4.752,0.374],[4.772,0.162],[4.793,0.029],[4.833,0.003],[4.894,-0.024],[4.955,-0.050],[5.006,-0.037],[5.026,-0.024],[5.047,-0.050],[5.057,-0.024],[5.077,-0.050],[5.108,-0.024],
[5.118,0.056],[5.128,0.162],[5.138,0.268],[5.146,0.585],[5.159,0.970],[5.167,0.321],[5.175,-0.368],[5.183,-0.077],[5.195,0.374],[5.209,0.718],[5.220,0.956],[5.236,1.208],[5.250,1.274],[5.264,1.354],[5.280,1.460],[5.301,1.592],[5.321,1.725],[5.337,1.764],[5.352,1.746],[5.372,1.619],[5.386,1.380],[5.402,1.062],[5.423,0.718],[5.443,0.347],[5.463,0.109],[5.484,0.029],[5.545,-0.003],[5.575,-0.019],[5.596,-0.050],[5.616,-0.064],[5.687,-0.050],[5.728,-0.037],[5.748,-0.064],[5.768,-0.011],[5.778,0.003],[5.789,-0.050],[5.799,-0.082],[5.809,-0.037],
[5.819,0.109],[5.829,0.268],[5.839,0.532],[5.850,0.744],[5.856,0.771],[5.866,0.056],[5.874,-0.262],[5.882,-0.077],[5.890,0.321],[5.907,0.718],[5.921,1.115],[5.931,1.274],[5.947,1.380],[5.961,1.486],[5.988,1.619]];

const V3 = [[0,0.264],[0.012,0.247],[0.022,0.192],[0.043,0.163],[0.073,0.159],[0.104,0.163],[0.114,0.151],[0.124,0.130],[0.140,0.109],[0.175,0.088],[0.205,0.096],[0.246,0.109],[0.266,0.130],[0.283,0.109],[0.297,0.117],[0.311,0.117],[0.319,0.054],[0.327,0.067],[0.343,0.079],[0.354,0.172],[0.360,0.339],[0.370,1.300],[0.378,1.846],[0.386,1.200],[0.394,0.800],[0.400,0.569],[0.409,1.594],[0.429,1.950],[0.445,2.163],[0.459,2.375],[0.480,2.534],[0.510,2.745],[0.530,2.878],[0.551,2.957],[0.561,2.971],[0.575,2.931],[0.591,2.772],[0.608,2.507],[0.622,2.190],[0.636,1.793],[0.644,1.510],[0.652,1.008],[0.669,0.548],[0.683,0.318],[0.697,0.192],[0.713,0.151],[0.774,0.151],[0.795,0.121],[0.825,0.096],[0.856,0.075],[0.896,0.067],[0.937,0.096],[0.978,0.117],[0.994,0.121],[1.002,0.067],[1.018,0.067],[1.035,0.130],[1.043,0.297],
[1.051,0.925],[1.061,1.700],[1.070,1.100],[1.079,0.653],[1.089,1.510],[1.104,2.057],[1.120,2.322],[1.140,2.401],[1.165,2.587],[1.191,2.746],[1.222,2.878],[1.242,2.984],[1.258,2.997],[1.272,2.957],[1.287,2.825],[1.303,2.587],[1.319,2.200],[1.333,1.600],[1.344,0.950],[1.360,0.420],[1.374,0.255],[1.388,0.205],[1.435,0.180],[1.486,0.172],[1.526,0.151],[1.557,0.130],[1.618,0.163],[1.665,0.180],[1.681,0.138],[1.693,0.151],[1.701,0.297],[1.709,0.464],
[1.720,0.925],[1.736,1.872],[1.748,1.200],[1.760,0.715],[1.770,2.057],[1.791,2.322],[1.811,2.454],[1.841,2.640],[1.872,2.799],[1.902,2.918],[1.923,2.931],[1.943,2.878],[1.963,2.666],[1.984,2.322],[1.998,1.793],[2.004,1.510],[2.014,0.925],[2.035,0.423],[2.055,0.276],[2.075,0.234],[2.157,0.234],[2.177,0.192],[2.207,0.163],[2.238,0.180],[2.278,0.213],[2.299,0.234],[2.315,0.192],[2.329,0.247],[2.339,0.172],[2.350,0.151],[2.360,0.180],[2.370,0.213],[2.380,0.339],[2.390,0.590],
[2.396,1.343],[2.404,2.084],[2.417,1.300],[2.431,0.632],[2.441,1.925],[2.457,2.190],[2.478,2.375],[2.498,2.507],[2.522,2.640],[2.553,2.799],[2.573,2.904],[2.593,2.931],[2.608,2.904],[2.624,2.746],[2.640,2.454],[2.654,2.057],[2.668,1.528],[2.681,1.343],[2.689,0.925],[2.705,0.506],[2.722,0.318],[2.736,0.234],[2.766,0.222],[2.807,0.213],[2.837,0.192],[2.868,0.151],[2.898,0.121],[2.929,0.117],[2.949,0.151],[2.965,0.172],[2.980,0.138],[3.000,0.172],[3.014,0.109],[3.030,0.088],[3.045,0.109],[3.061,0.339],[3.069,0.715],
[3.077,1.427],[3.085,1.925],[3.093,1.343],[3.102,0.611],[3.122,2.322],[3.157,2.428],[3.187,2.640],[3.228,2.851],[3.264,2.963],[3.278,2.952],[3.293,2.878],[3.305,2.719],[3.319,2.428],[3.333,2.057],[3.350,1.528],[3.360,1.092],[3.370,0.715],[3.386,0.381],[3.400,0.255],[3.421,0.192],[3.472,0.192],[3.502,0.172],[3.533,0.130],[3.563,0.109],[3.593,0.109],[3.624,0.138],[3.650,0.163],[3.665,0.138],[3.685,0.180],[3.695,0.192],[3.706,0.109],[3.722,0.109],[3.736,0.192],[3.746,0.339],[3.756,0.715],
[3.762,1.343],[3.766,1.740],[3.776,1.343],[3.789,0.640],[3.801,1.925],[3.817,2.322],[3.837,2.454],[3.858,2.587],[3.882,2.719],[3.909,2.851],[3.929,2.931],[3.943,2.957],[3.959,2.944],[3.976,2.851],[3.990,2.666],[4.004,2.322],[4.020,1.793],[4.037,1.259],[4.051,0.674],[4.071,0.339],[4.091,0.192],[4.163,0.172],[4.183,0.151],[4.203,0.130],[4.224,0.109],[4.254,0.088],[4.285,0.088],[4.305,0.109],[4.325,0.138],[4.346,0.117],[4.362,0.109],[4.376,0.130],[4.386,0.088],[4.396,0.067],[4.407,0.088],[4.427,0.297],[4.437,0.715],
[4.447,1.427],[4.457,1.846],[4.467,1.343],[4.480,0.611],[4.492,1.925],[4.508,2.322],[4.529,2.428],[4.549,2.587],[4.573,2.746],[4.600,2.878],[4.620,2.971],[4.630,2.997],[4.646,2.971],[4.661,2.878],[4.675,2.719],[4.691,2.428],[4.707,1.925],[4.722,1.396],[4.732,1.092],[4.752,0.548],[4.772,0.297],[4.793,0.172],[4.823,0.151],[4.854,0.138],[4.884,0.109],[4.915,0.079],[4.935,0.054],[4.965,0.067],[5.006,0.067],[5.026,0.079],[5.041,0.109],[5.057,0.067],[5.073,0.096],[5.087,0.046],[5.102,0.054],[5.114,0.046],[5.128,0.339],[5.138,0.925],
[5.148,1.510],[5.159,1.846],[5.167,1.343],[5.175,0.590],[5.189,1.925],[5.203,2.322],[5.224,2.428],[5.244,2.587],[5.270,2.746],[5.297,2.878],[5.317,2.957],[5.331,2.971],[5.346,2.944],[5.362,2.799],[5.378,2.507],[5.392,2.057],[5.407,1.528],[5.423,1.259],[5.443,0.590],[5.463,0.297],[5.484,0.151],[5.514,0.130],[5.565,0.109],[5.585,0.079],[5.616,0.054],[5.646,0.046],[5.677,0.054],[5.707,0.067],[5.728,0.079],[5.748,0.088],[5.778,0.067],[5.793,0.025],[5.809,0.054],[5.819,0.255],[5.829,0.715],
[5.839,1.510],[5.856,1.740],[5.866,1.300],[5.876,0.736],[5.886,1.925],[5.900,2.322],[5.915,2.428],[5.931,2.534],[5.951,2.640],[5.972,2.746],[5.988,2.838]];

const V4 = [[0,0.008],[0.012,-0.008],[0.022,-0.050],[0.043,-0.071],[0.073,-0.071],[0.104,-0.084],[0.144,-0.079],[0.175,-0.084],[0.195,-0.067],[0.215,-0.050],[0.246,-0.033],[0.276,-0.021],[0.297,0.008],[0.311,-0.021],[0.319,-0.084],[0.327,-0.075],[0.348,-0.050],[0.356,0.084],[0.364,0.879],[0.372,1.715],[0.384,2.343],[0.396,1.506],[0.404,0.586],[0.411,0.335],[0.421,0.481],[0.433,0.607],[0.445,0.920],[0.459,1.172],[0.480,1.276],[0.500,1.381],[0.514,1.443],[0.530,1.498],[0.551,1.540],[0.567,1.527],[0.581,1.464],[0.596,1.318],[0.612,1.088],[0.626,0.837],[0.642,0.544],[0.657,0.293],[0.673,0.126],[0.693,0.008],[0.713,-0.063],[0.744,-0.084],[0.774,-0.096],[0.791,-0.113],[0.815,-0.105],[0.856,-0.096],[0.896,-0.084],[0.917,-0.063],[0.937,-0.033],[0.957,-0.013],[0.978,0],[0.988,-0.021],[0.998,-0.084],[1.008,-0.096],[1.018,-0.075],[1.035,0],
[1.043,0.251],[1.051,1.088],[1.063,2.406],[1.075,1.506],[1.083,0.753],[1.089,0.460],[1.100,0.565],[1.110,0.795],[1.120,1.004],[1.136,1.192],[1.150,1.276],[1.171,1.381],[1.191,1.506],[1.211,1.582],[1.232,1.623],[1.246,1.611],[1.262,1.548],[1.278,1.423],[1.293,1.213],[1.307,0.962],[1.323,0.669],[1.339,0.418],[1.354,0.251],[1.368,0.126],[1.384,0.021],[1.404,-0.008],[1.435,-0.021],[1.465,-0.021],[1.496,-0.033],[1.526,-0.008],[1.547,-0.033],[1.577,0],[1.608,0.021],[1.638,0.050],[1.652,0.084],[1.665,0],[1.679,0.021],[1.693,0],[1.705,0.084],
[1.713,0.251],[1.722,1.088],[1.730,2.134],[1.738,2.406],[1.746,1.715],[1.754,0.879],[1.760,0.502],[1.774,0.586],[1.787,0.795],[1.801,1.088],[1.815,1.305],[1.841,1.423],[1.868,1.498],[1.892,1.548],[1.909,1.540],[1.929,1.527],[1.943,1.423],[1.957,1.255],[1.974,1.004],[1.994,0.711],[2.014,0.356],[2.035,0.167],[2.055,0.084],[2.075,0.042],[2.096,0.008],[2.126,0],[2.157,0],[2.181,-0.021],[2.207,-0.008],[2.238,0],[2.268,0.021],[2.299,0.033],[2.329,0.063],[2.339,0.008],[2.350,-0.021],[2.370,0],[2.380,0.042],
[2.390,0.251],[2.396,1.088],[2.404,2.134],[2.413,2.385],[2.421,1.506],[2.431,0.669],[2.441,0.377],[2.451,0.481],[2.461,0.669],[2.472,0.920],[2.486,1.130],[2.502,1.192],[2.522,1.289],[2.543,1.360],[2.563,1.431],[2.579,1.473],[2.600,1.456],[2.614,1.414],[2.628,1.297],[2.644,1.046],[2.661,0.753],[2.675,0.502],[2.689,0.293],[2.705,0.126],[2.722,0.050],[2.736,-0.033],[2.766,-0.050],[2.787,-0.042],[2.807,-0.050],[2.827,-0.075],[2.858,-0.084],[2.888,-0.063],[2.919,-0.050],[2.949,-0.021],[2.980,0],[3.000,-0.008],[3.020,-0.021],[3.030,-0.063],[3.041,-0.042],[3.045,-0.050],[3.061,-0.033],
[3.069,0.251],[3.077,1.297],[3.089,2.218],[3.098,2.364],[3.106,1.506],[3.114,0.669],[3.120,0.356],[3.130,0.481],[3.142,0.711],[3.157,0.962],[3.171,1.130],[3.191,1.234],[3.218,1.339],[3.238,1.423],[3.258,1.485],[3.272,1.515],[3.289,1.485],[3.305,1.381],[3.319,1.172],[3.333,0.920],[3.350,0.586],[3.366,0.293],[3.380,0.126],[3.400,0],[3.421,-0.063],[3.451,-0.084],[3.492,-0.084],[3.533,-0.105],[3.563,-0.105],[3.593,-0.084],[3.624,-0.075],[3.654,-0.042],[3.685,-0.008],[3.695,0.008],[3.706,-0.084],[3.720,-0.075],[3.736,-0.084],[3.746,0],
[3.752,0.251],[3.760,1.088],[3.771,2.134],[3.779,2.385],[3.787,1.715],[3.795,0.753],[3.801,0.293],[3.813,0.460],[3.821,0.669],[3.833,0.920],[3.848,1.151],[3.868,1.255],[3.888,1.360],[3.909,1.443],[3.929,1.485],[3.949,1.506],[3.970,1.485],[3.984,1.381],[4.000,1.172],[4.016,0.920],[4.035,0.586],[4.051,0.293],[4.071,0.084],[4.091,-0.050],[4.122,-0.075],[4.152,-0.084],[4.183,-0.105],[4.224,-0.092],[4.264,-0.084],[4.305,-0.075],[4.335,-0.042],[4.362,0],[4.376,0.008],[4.386,-0.084],[4.402,-0.105],[4.423,-0.105],
[4.433,0.042],[4.443,0.879],[4.453,2.008],[4.463,2.364],[4.474,1.506],[4.482,0.753],[4.488,0.335],[4.500,0.481],[4.512,0.753],[4.524,1.004],[4.539,1.172],[4.559,1.297],[4.579,1.402],[4.600,1.506],[4.620,1.548],[4.640,1.548],[4.654,1.527],[4.671,1.423],[4.687,1.192],[4.701,0.920],[4.718,0.586],[4.736,0.293],[4.756,0.084],[4.782,-0.042],[4.813,-0.092],[4.854,-0.092],[4.894,-0.105],[4.925,-0.126],[4.955,-0.117],[4.986,-0.092],[5.016,-0.075],[5.047,-0.050],[5.067,-0.033],[5.081,-0.075],[5.093,-0.117],[5.114,-0.105],[5.128,0],
[5.138,0.753],[5.150,1.715],[5.159,2.301],[5.169,2.301],[5.179,1.506],[5.185,0.753],[5.191,0.377],[5.203,0.502],[5.215,0.753],[5.224,0.962],[5.240,1.192],[5.260,1.318],[5.280,1.423],[5.301,1.506],[5.321,1.548],[5.341,1.527],[5.362,1.431],[5.378,1.213],[5.392,0.920],[5.407,0.586],[5.423,0.293],[5.443,0.084],[5.463,-0.050],[5.494,-0.105],[5.524,-0.126],[5.565,-0.117],[5.596,-0.126],[5.626,-0.134],[5.657,-0.117],[5.687,-0.105],[5.728,-0.105],[5.748,-0.075],[5.768,-0.050],[5.778,-0.084],[5.793,-0.126],[5.809,-0.084],[5.819,0.042],
[5.829,0.879],[5.839,2.134],[5.850,2.385],[5.860,1.715],[5.870,0.753],[5.878,0.335],[5.890,0.481],[5.900,0.753],[5.911,1.004],[5.921,1.213],[5.941,1.381],[5.961,1.506],[5.988,1.485]];

const V5 = [[0,-0.096],[0.012,-0.109],[0.043,-0.138],[0.073,-0.121],[0.104,-0.113],[0.134,-0.121],[0.165,-0.113],[0.175,-0.138],[0.205,-0.121],[0.226,-0.109],[0.246,-0.109],[0.262,-0.067],[0.276,-0.025],[0.297,0.004],[0.307,-0.067],[0.319,-0.121],[0.337,-0.138],[0.348,-0.151],[0.356,-0.151],[0.364,0.121],[0.372,0.749],[0.382,1.084],[0.390,1.251],[0.398,0.833],[0.409,0.289],[0.419,-0.046],[0.429,-0.151],[0.439,-0.067],[0.453,0.004],[0.470,0.038],[0.490,0.059],[0.510,0.088],[0.530,0.100],[0.561,0.130],[0.591,0.100],[0.616,0.059],[0.642,-0.004],[0.673,-0.067],[0.703,-0.109],[0.734,-0.121],[0.764,-0.109],[0.795,-0.130],[0.835,-0.121],[0.876,-0.121],[0.917,-0.121],[0.937,-0.054],[0.957,-0.025],[0.978,-0.013],[0.994,-0.046],[1.008,-0.109],[1.018,-0.121],[1.035,-0.163],
[1.043,-0.046],[1.051,0.414],[1.059,1.042],[1.069,1.356],[1.079,0.833],[1.089,0.205],[1.100,-0.025],[1.110,-0.109],[1.120,-0.025],[1.136,0.059],[1.150,0.100],[1.165,0.088],[1.181,0.130],[1.201,0.163],[1.222,0.172],[1.242,0.205],[1.262,0.205],[1.283,0.184],[1.303,0.121],[1.323,0.059],[1.344,-0.004],[1.364,-0.046],[1.394,-0.096],[1.425,-0.121],[1.465,-0.121],[1.496,-0.096],[1.526,-0.079],[1.547,-0.109],[1.577,-0.088],[1.598,-0.079],[1.618,-0.054],[1.638,-0.004],[1.659,0.017],[1.673,-0.025],[1.681,-0.088],[1.693,-0.079],[1.709,-0.121],
[1.717,0.121],[1.726,0.749],[1.734,1.167],[1.742,1.251],[1.750,0.833],[1.760,0.331],[1.770,0.038],[1.780,-0.054],[1.791,0.017],[1.807,0.100],[1.821,0.130],[1.841,0.142],[1.862,0.172],[1.882,0.197],[1.902,0.205],[1.923,0.197],[1.949,0.172],[1.974,0.113],[1.994,0.059],[2.014,0.004],[2.035,-0.046],[2.055,-0.079],[2.085,-0.121],[2.116,-0.130],[2.146,-0.138],[2.177,-0.151],[2.207,-0.163],[2.238,-0.151],[2.278,-0.130],[2.309,-0.096],[2.329,-0.054],[2.339,-0.088],[2.356,-0.172],[2.370,-0.192],[2.384,-0.151],
[2.392,0.079],[2.400,0.498],[2.409,1.000],[2.417,1.126],[2.425,0.833],[2.433,0.414],[2.445,-0.004],[2.457,-0.163],[2.472,-0.067],[2.486,-0.025],[2.502,-0.004],[2.522,0.029],[2.543,0.059],[2.563,0.079],[2.587,0.113],[2.614,0.088],[2.640,0.059],[2.665,-0.004],[2.689,-0.054],[2.715,-0.130],[2.746,-0.172],[2.787,-0.172],[2.827,-0.163],[2.868,-0.172],[2.909,-0.163],[2.949,-0.151],[2.980,-0.121],[3.000,-0.067],[3.010,-0.046],[3.026,-0.130],[3.041,-0.192],[3.061,-0.192],
[3.069,0.079],[3.077,0.498],[3.085,0.916],[3.095,1.146],[3.106,0.749],[3.116,0.205],[3.126,-0.109],[3.136,-0.192],[3.146,-0.088],[3.163,-0.013],[3.177,-0.025],[3.197,0.038],[3.218,0.059],[3.238,0.079],[3.258,0.100],[3.279,0.113],[3.299,0.100],[3.319,0.079],[3.339,0.017],[3.360,-0.025],[3.380,-0.088],[3.400,-0.130],[3.421,-0.151],[3.451,-0.138],[3.482,-0.151],[3.522,-0.151],[3.553,-0.151],[3.583,-0.138],[3.614,-0.130],[3.644,-0.109],[3.665,-0.067],[3.685,-0.025],[3.699,-0.067],[3.715,-0.130],[3.726,-0.151],[3.736,-0.138],[3.746,-0.172],
[3.756,0.121],[3.766,0.749],[3.776,1.272],[3.787,0.749],[3.797,0.121],[3.807,-0.088],[3.817,-0.192],[3.827,-0.109],[3.841,-0.046],[3.858,-0.013],[3.878,0.017],[3.898,0.046],[3.919,0.079],[3.939,0.088],[3.963,0.088],[3.984,0.059],[4.004,0.017],[4.024,-0.025],[4.045,-0.079],[4.071,-0.130],[4.102,-0.151],[4.142,-0.138],[4.183,-0.138],[4.224,-0.130],[4.264,-0.130],[4.305,-0.109],[4.329,-0.088],[4.346,-0.054],[4.366,-0.038],[4.386,-0.067],[4.402,-0.130],[4.417,-0.151],[4.431,-0.172],
[4.443,0.121],[4.453,0.749],[4.467,1.293],[4.478,0.833],[4.488,0.205],[4.498,-0.109],[4.508,-0.192],[4.518,-0.109],[4.539,-0.025],[4.559,0.017],[4.579,0.046],[4.600,0.071],[4.620,0.088],[4.640,0.100],[4.661,0.130],[4.681,0.100],[4.701,0.038],[4.722,-0.004],[4.742,-0.046],[4.762,-0.079],[4.783,-0.121],[4.813,-0.151],[4.854,-0.138],[4.894,-0.130],[4.925,-0.121],[4.955,-0.138],[4.986,-0.138],[5.016,-0.121],[5.037,-0.088],[5.057,-0.046],[5.077,-0.025],[5.093,-0.067],[5.108,-0.151],[5.122,-0.172],[5.134,-0.192],
[5.142,0.121],[5.150,0.749],[5.159,1.167],[5.169,1.167],[5.179,0.414],[5.189,-0.004],[5.203,-0.172],[5.215,-0.088],[5.230,-0.038],[5.250,0.017],[5.270,0.046],[5.291,0.079],[5.311,0.100],[5.331,0.113],[5.352,0.121],[5.372,0.100],[5.392,0.059],[5.413,-0.004],[5.439,-0.054],[5.463,-0.109],[5.484,-0.138],[5.514,-0.151],[5.545,-0.138],[5.575,-0.151],[5.606,-0.138],[5.646,-0.151],[5.677,-0.151],[5.707,-0.121],[5.728,-0.088],[5.748,-0.054],[5.768,-0.054],[5.783,-0.109],[5.799,-0.151],[5.813,-0.172],[5.825,-0.192],
[5.833,0.121],[5.843,0.749],[5.860,1.314],[5.870,0.749],[5.880,0.205],[5.894,-0.151],[5.911,-0.067],[5.927,-0.004],[5.947,0.029],[5.968,0.059],[5.988,0.071]];

const V6 = [[0,0.025],[0.022,0.013],[0.053,0],[0.073,0.013],[0.114,0.013],[0.165,0],[0.205,0],[0.250,0],[0.266,0.054],[0.287,0.096],[0.303,0.075],[0.317,0.025],[0.327,-0.029],[0.348,-0.050],[0.356,-0.059],[0.364,0.117],[0.372,0.452],[0.380,0.661],[0.390,0.766],[0.398,0.410],[0.409,0.117],[0.419,-0.050],[0.429,-0.142],[0.439,-0.113],[0.453,-0.071],[0.480,-0.050],[0.510,-0.029],[0.541,-0.017],[0.571,0],[0.602,0.013],[0.636,0.033],[0.663,0.013],[0.693,-0.017],[0.734,-0.017],[0.774,-0.017],[0.815,-0.017],[0.856,-0.008],[0.896,0],[0.917,-0.017],[0.937,0.013],[0.957,0.075],[0.974,0.084],[0.994,0.033],[1.008,-0.017],[1.018,-0.042],[1.035,-0.071],
[1.043,0.033],[1.051,0.368],[1.061,0.661],[1.069,0.787],[1.079,0.536],[1.089,0.243],[1.100,0.033],[1.110,-0.100],[1.130,-0.050],[1.150,0],[1.171,0.025],[1.191,0.033],[1.211,0.054],[1.232,0.067],[1.262,0.054],[1.293,0.054],[1.323,0.042],[1.354,0.033],[1.384,0.033],[1.415,0.013],[1.445,0.033],[1.476,0.025],[1.496,0],[1.516,0.025],[1.547,0.013],[1.571,0],[1.598,0.033],[1.618,0.054],[1.632,0.096],[1.648,0.126],[1.665,0.109],[1.679,0.042],[1.693,0.033],[1.709,0.013],
[1.717,0.117],[1.726,0.452],[1.734,0.703],[1.742,0.736],[1.750,0.494],[1.760,0.243],[1.770,0.033],[1.787,-0.042],[1.801,0.033],[1.821,0.054],[1.841,0.033],[1.862,0.025],[1.876,-0.008],[1.892,-0.059],[1.913,-0.071],[1.953,-0.059],[1.984,-0.084],[2.014,-0.084],[2.045,-0.092],[2.075,-0.113],[2.116,-0.113],[2.146,-0.134],[2.177,-0.142],[2.217,-0.142],[2.248,-0.134],[2.278,-0.134],[2.295,-0.092],[2.309,-0.059],[2.329,-0.059],[2.343,-0.084],[2.360,-0.142],[2.376,-0.167],[2.386,-0.142],
[2.394,0.117],[2.404,0.452],[2.413,0.556],[2.421,0.536],[2.429,0.243],[2.441,-0.050],[2.457,-0.218],[2.472,-0.176],[2.492,-0.142],[2.522,-0.113],[2.553,-0.100],[2.583,-0.100],[2.614,-0.100],[2.644,-0.100],[2.685,-0.100],[2.705,-0.113],[2.726,-0.142],[2.766,-0.155],[2.807,-0.142],[2.848,-0.126],[2.888,-0.126],[2.919,-0.113],[2.949,-0.092],[2.970,-0.084],[2.990,-0.050],[3.006,-0.017],[3.020,-0.050],[3.035,-0.113],[3.051,-0.142],[3.061,-0.142],
[3.069,0.033],[3.077,0.368],[3.085,0.494],[3.095,0.619],[3.106,0.368],[3.116,0.033],[3.126,-0.134],[3.136,-0.209],[3.150,-0.155],[3.167,-0.092],[3.187,-0.071],[3.207,-0.059],[3.228,-0.059],[3.248,-0.029],[3.279,-0.017],[3.309,-0.008],[3.329,-0.017],[3.360,-0.029],[3.390,-0.050],[3.421,-0.059],[3.451,-0.042],[3.482,-0.050],[3.512,-0.050],[3.543,-0.042],[3.573,-0.029],[3.614,-0.029],[3.634,-0.029],[3.650,0.013],[3.671,0.054],[3.685,0.075],[3.699,0.042],[3.715,-0.017],[3.736,-0.059],[3.746,-0.084],
[3.756,0.033],[3.766,0.410],[3.779,0.766],[3.789,0.452],[3.801,0.117],[3.817,-0.134],[3.837,-0.084],[3.858,-0.050],[3.888,-0.029],[3.919,-0.017],[3.949,0],[3.980,0.025],[4.010,0.013],[4.041,0],[4.057,0.013],[4.077,-0.017],[4.102,-0.042],[4.142,-0.050],[4.183,-0.042],[4.224,-0.029],[4.274,-0.017],[4.315,-0.017],[4.335,0],[4.356,0.054],[4.370,0.067],[4.386,0.042],[4.402,-0.017],[4.417,-0.059],[4.431,-0.084],
[4.441,0.033],[4.451,0.410],[4.467,0.766],[4.478,0.494],[4.488,0.159],[4.498,-0.050],[4.508,-0.167],[4.524,-0.113],[4.545,-0.071],[4.569,-0.050],[4.600,-0.029],[4.630,-0.017],[4.661,0],[4.691,0],[4.722,0],[4.742,-0.017],[4.772,-0.029],[4.803,-0.042],[4.833,-0.029],[4.864,-0.042],[4.894,-0.017],[4.925,-0.042],[4.965,-0.029],[5.006,-0.017],[5.026,0],[5.047,0.042],[5.067,0.075],[5.081,0.042],[5.098,-0.017],[5.118,-0.050],[5.132,-0.084],
[5.142,0.033],[5.152,0.368],[5.161,0.682],[5.169,0.711],[5.179,0.326],[5.189,0.033],[5.203,-0.142],[5.220,-0.092],[5.240,-0.050],[5.270,-0.029],[5.301,-0.008],[5.331,0.013],[5.362,0.025],[5.392,0.025],[5.423,0.013],[5.453,0],[5.484,0],[5.504,-0.017],[5.535,-0.029],[5.575,-0.029],[5.616,-0.029],[5.657,-0.029],[5.687,-0.017],[5.717,0],[5.738,0.033],[5.758,0.075],[5.772,0.054],[5.789,-0.017],[5.805,-0.071],[5.819,-0.092],
[5.829,-0.017],[5.839,0.368],[5.850,0.703],[5.858,0.766],[5.870,0.452],[5.880,0.117],[5.894,-0.134],[5.907,-0.155],[5.921,-0.092],[5.941,-0.071],[5.961,-0.050],[5.988,-0.029]];

const leadData = [aVL, leadI, aVR, leadII, aVF, leadIII, V1, V2, V3, V4, V5, V6];

// ---- layout (drawn in a 4320 x 5039 user space, stretched to fill the window) ----
const width = 4320, height = 5039;
const plot = { left: 60, right: 4275, top: 43, bottom: 4979 };
const labelTime = -0.023;

const svg = d3.select("#chart").append("svg")
  .attr("viewBox", `0 0 ${width} ${height}`)
  .attr("preserveAspectRatio", "none")
  .style("background", "#fff");

const x = d3.scaleLinear().domain([-0.3, 6.29]).range([plot.left, plot.right]);
const y = d3.scaleLinear().domain([-18.575, 0.052]).range([plot.bottom, plot.top]);

// grid: 0.04 s / 0.1 mV minor, 0.2 s / 0.5 mV major
const xMinor = d3.range(-7, 158).map(i => ({ v: i * 0.04, major: i % 5 === 0 }));
const yMinor = d3.range(-185, 1).map(i => ({ v: i * 0.1, major: i % 5 === 0 }));

const grid = svg.append("g");
grid.selectAll(".vminor").data(xMinor.filter(d => !d.major)).join("line")
  .attr("x1", d => x(d.v)).attr("x2", d => x(d.v))
  .attr("y1", plot.top).attr("y2", plot.bottom)
  .attr("stroke", "#d0d0d0").attr("stroke-width", 2).attr("stroke-dasharray", "2,3.4");
grid.selectAll(".hminor").data(yMinor.filter(d => !d.major)).join("line")
  .attr("x1", plot.left).attr("x2", plot.right)
  .attr("y1", d => y(d.v)).attr("y2", d => y(d.v))
  .attr("stroke", "#d0d0d0").attr("stroke-width", 2).attr("stroke-dasharray", "2,3.4");
grid.selectAll(".vmajor").data(xMinor.filter(d => d.major)).join("line")
  .attr("x1", d => x(d.v)).attr("x2", d => x(d.v))
  .attr("y1", plot.top).attr("y2", plot.bottom)
  .attr("stroke", "#cccccc").attr("stroke-width", 4.2);
grid.selectAll(".hmajor").data(yMinor.filter(d => d.major)).join("line")
  .attr("x1", plot.left).attr("x2", plot.right)
  .attr("y1", d => y(d.v)).attr("y2", d => y(d.v))
  .attr("stroke", "#cccccc").attr("stroke-width", 4.2);

// traces
const traces = svg.append("g");
leadData.forEach((pts, i) => {
  const off = leadOffsets[i];
  const line = d3.line().x(d => x(d[0])).y(d => y(d[1] + off));
  traces.append("path")
    .attr("d", line(pts))
    .attr("fill", "none")
    .attr("stroke", "#0000ff")
    .attr("stroke-width", 4.6)
    .attr("stroke-linejoin", "round")
    .attr("stroke-linecap", "butt");
});

// frame
svg.append("rect")
  .attr("x", plot.left).attr("y", plot.top)
  .attr("width", plot.right - plot.left).attr("height", plot.bottom - plot.top)
  .attr("fill", "none").attr("stroke", "#000").attr("stroke-width", 3.3);

// ticks
function styleAxis(g, w) {
  g.select(".domain").remove();
  g.selectAll(".tick line").attr("stroke", "#000").attr("stroke-width", w);
  g.selectAll(".tick text").remove();
}
svg.append("g").attr("transform", `translate(0,${plot.bottom})`)
  .call(d3.axisBottom(x).tickValues(xMinor.filter(d => !d.major).map(d => d.v)).tickSize(8.3).tickFormat(""))
  .call(g => styleAxis(g, 2.5));
svg.append("g").attr("transform", `translate(0,${plot.bottom})`)
  .call(d3.axisBottom(x).tickValues(xMinor.filter(d => d.major).map(d => d.v)).tickSize(14.6).tickFormat(""))
  .call(g => styleAxis(g, 3.3));
svg.append("g").attr("transform", `translate(${plot.left},0)`)
  .call(d3.axisLeft(y).tickValues(yMinor.filter(d => !d.major).map(d => d.v)).tickSize(8.3).tickFormat(""))
  .call(g => styleAxis(g, 2.5));
svg.append("g").attr("transform", `translate(${plot.left},0)`)
  .call(d3.axisLeft(y).tickValues(yMinor.filter(d => d.major).map(d => d.v)).tickSize(14.6).tickFormat(""))
  .call(g => styleAxis(g, 3.3));

// lead labels, at each trace's first value
svg.append("g").selectAll("text").data(leadNames).join("text")
  .attr("x", x(labelTime))
  .attr("y", (d, i) => y(leadData[i][0][1] + leadOffsets[i]))
  .attr("dy", "0.36em")
  .attr("text-anchor", "end")
  .attr("font-family", "DejaVu Sans, sans-serif")
  .attr("font-weight", "bold")
  .attr("font-size", 58)
  .attr("fill", "#000")
  .text(d => d);

// caption
svg.append("text")
  .attr("x", (plot.left + plot.right) / 2 + 3)
  .attr("y", 4991)
  .attr("text-anchor", "middle")
  .attr("font-family", "DejaVu Sans, sans-serif")
  .attr("font-size", 48)
  .attr("fill", "#000")
  .text(caption);
</script>
</body>
</html>
